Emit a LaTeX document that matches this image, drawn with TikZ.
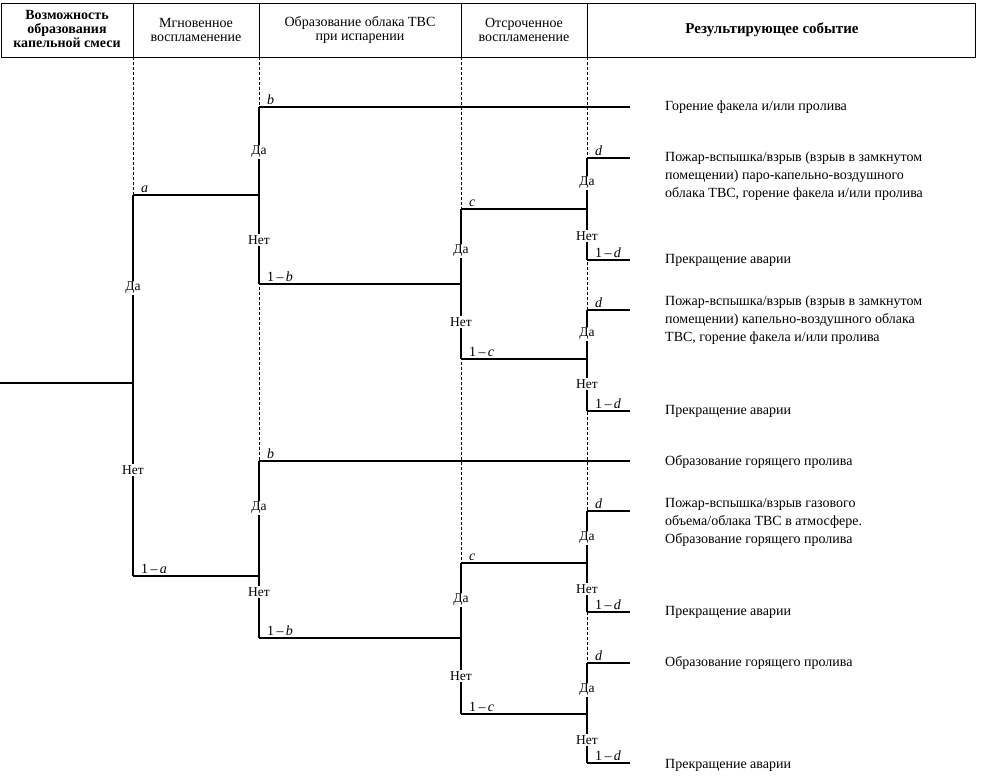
\documentclass[tikz,border=0pt]{standalone}
\usepackage{fontspec}
\setmainfont{Liberation Serif}
\usetikzlibrary{positioning,calc}

\tikzset{
  br/.style={line width=1.3pt},
  col/.style={densely dashed,line width=0.5pt},
  yn/.style={fill=white,inner sep=1.5pt,font=\fontsize{13.5}{14}\selectfont},
  pr/.style={anchor=south west,inner sep=1pt,xshift=7pt,yshift=1pt,font=\fontsize{14}{14}\selectfont},
  res/.style={anchor=west,align=left,inner sep=0pt,font=\fontsize{14}{18}\selectfont},
  hd/.style={align=center,font=\fontsize{14}{14}\selectfont}
}

\begin{document}
\begin{tikzpicture}[x=1pt,y=-1pt]
\useasboundingbox (0,0) rectangle (982,776);
\draw[line width=0.6pt] (1,3) rectangle (975,57);
\draw[line width=0.6pt] (133,3) -- (133,57);
\draw[line width=0.6pt] (259,3) -- (259,57);
\draw[line width=0.6pt] (461,3) -- (461,57);
\draw[line width=0.6pt] (587,3) -- (587,57);
\node[hd,font=\fontsize{14}{14}\selectfont\bfseries] (h1) at (67,29) {Возможность\\образования\\капельной смеси};
\node[hd] (h2) at (196,30) {Мгновенное\\воспламенение};
\node[hd] (h3) at (360,30) {Образование облака ТВС\\при испарении};
\node[hd] (h4) at (524,30) {Отсроченное\\воспламенение};
\node[hd,font=\fontsize{15}{15}\selectfont\bfseries] (h5) at (772,30) {Результирующее событие};
\draw[col] (133,57) -- (133,576);
\draw[col] (259,57) -- (259,638);
\draw[col] (461,57) -- (461,714);
\draw[col] (587,57) -- (587,763);

\coordinate (s) at (0,383);
\coordinate (A) at (133,383);
\coordinate (At) at (133,195);
\coordinate (Ab) at (133,576);
\coordinate (B1) at (259,195);
\coordinate (B1t) at (259,107);
\coordinate (B1b) at (259,284);
\coordinate (B2) at (259,576);
\coordinate (B2t) at (259,461);
\coordinate (B2b) at (259,638);
\coordinate (C1) at (461,284);
\coordinate (C1t) at (461,209);
\coordinate (C1b) at (461,359);
\coordinate (C2) at (461,638);
\coordinate (C2t) at (461,563);
\coordinate (C2b) at (461,714);
\coordinate (D1) at (587,209);
\coordinate (D1t) at (587,158);
\coordinate (D1b) at (587,260);
\coordinate (D2) at (587,359);
\coordinate (D2t) at (587,310);
\coordinate (D2b) at (587,411);
\coordinate (D3) at (587,563);
\coordinate (D3t) at (587,511);
\coordinate (D3b) at (587,612);
\coordinate (D4) at (587,714);
\coordinate (D4t) at (587,663);
\coordinate (D4b) at (587,763);
\coordinate (e1) at (630,107);
\coordinate (e2) at (630,158);
\coordinate (e3) at (630,260);
\coordinate (e4) at (630,310);
\coordinate (e5) at (630,411);
\coordinate (e6) at (630,461);
\coordinate (e7) at (630,511);
\coordinate (e8) at (630,612);
\coordinate (e9) at (630,663);
\coordinate (e10) at (630,763);

\draw[br] (s) -- (A);
\draw[br] (At) -- (Ab);
\draw[br] (At) -- (B1);
\draw[br] (Ab) -- (B2);
\draw[br] (B1t) -- (B1b);
\draw[br] (B1t) -- (e1);
\draw[br] (B1b) -- (C1);
\draw[br] (B2t) -- (B2b);
\draw[br] (B2t) -- (e6);
\draw[br] (B2b) -- (C2);
\draw[br] (C1t) -- (C1b);
\draw[br] (C1t) -- (D1);
\draw[br] (C1b) -- (D2);
\draw[br] (C2t) -- (C2b);
\draw[br] (C2t) -- (D3);
\draw[br] (C2b) -- (D4);
\draw[br] (D1t) -- (D1b);
\draw[br] (D1t) -- (e2);
\draw[br] (D1b) -- (e3);
\draw[br] (D2t) -- (D2b);
\draw[br] (D2t) -- (e4);
\draw[br] (D2b) -- (e5);
\draw[br] (D3t) -- (D3b);
\draw[br] (D3t) -- (e7);
\draw[br] (D3b) -- (e8);
\draw[br] (D4t) -- (D4b);
\draw[br] (D4t) -- (e9);
\draw[br] (D4b) -- (e10);

\node[yn] (ya) at (133,288) {Да};
\node[yn] (na) at (133,470) {Нет};
\node[yn] (yb1) at (259,152) {Да};
\node[yn] (nb1) at (259,240) {Нет};
\node[yn] (yb2) at (259,508) {Да};
\node[yn] (nb2) at (259,592) {Нет};
\node[yn] (yc1) at (461,251) {Да};
\node[yn] (nc1) at (461,322) {Нет};
\node[yn] (yc2) at (461,600) {Да};
\node[yn] (nc2) at (461,676) {Нет};
\node[yn] (yd1) at (587,183) {Да};
\node[yn] (nd1) at (587,236) {Нет};
\node[yn] (yd2) at (587,334) {Да};
\node[yn] (nd2) at (587,384) {Нет};
\node[yn] (yd3) at (587,538) {Да};
\node[yn] (nd3) at (587,589) {Нет};
\node[yn] (yd4) at (587,690) {Да};
\node[yn] (nd4) at (587,740) {Нет};

\node[pr] (pa) at (At) {\textit{a}};
\node[pr] (pna) at (Ab) {1\,–\,\textit{a}};
\node[pr] (pb1) at (B1t) {\textit{b}};
\node[pr] (pnb1) at (B1b) {1\,–\,\textit{b}};
\node[pr] (pb2) at (B2t) {\textit{b}};
\node[pr] (pnb2) at (B2b) {1\,–\,\textit{b}};
\node[pr] (pc1) at (C1t) {\textit{c}};
\node[pr] (pnc1) at (C1b) {1\,–\,\textit{c}};
\node[pr] (pc2) at (C2t) {\textit{c}};
\node[pr] (pnc2) at (C2b) {1\,–\,\textit{c}};
\node[pr] (pd1) at (D1t) {\textit{d}};
\node[pr] (pnd1) at (D1b) {1\,–\,\textit{d}};
\node[pr] (pd2) at (D2t) {\textit{d}};
\node[pr] (pnd2) at (D2b) {1\,–\,\textit{d}};
\node[pr] (pd3) at (D3t) {\textit{d}};
\node[pr] (pnd3) at (D3b) {1\,–\,\textit{d}};
\node[pr] (pd4) at (D4t) {\textit{d}};
\node[pr] (pnd4) at (D4b) {1\,–\,\textit{d}};

\node[res] (r1) at (665,107) {Горение факела и/или пролива};
\node[res] (r2) at (665,176) {Пожар-вспышка/взрыв (взрыв в замкнутом\\помещении) паро-капельно-воздушного\\облака ТВС, горение факела и/или пролива};
\node[res] (r3) at (665,260) {Прекращение аварии};
\node[res] (r4) at (665,320) {Пожар-вспышка/взрыв (взрыв в замкнутом\\помещении) капельно-воздушного облака\\ТВС, горение факела и/или пролива};
\node[res] (r5) at (665,411) {Прекращение аварии};
\node[res] (r6) at (665,462) {Образование горящего пролива};
\node[res] (r7) at (665,522) {Пожар-вспышка/взрыв газового\\объема/облака ТВС в атмосфере.\\Образование горящего пролива};
\node[res] (r8) at (665,612) {Прекращение аварии};
\node[res] (r9) at (665,663) {Образование горящего пролива};
\node[res] (r10) at (665,765) {Прекращение аварии};
\end{tikzpicture}
\end{document}
